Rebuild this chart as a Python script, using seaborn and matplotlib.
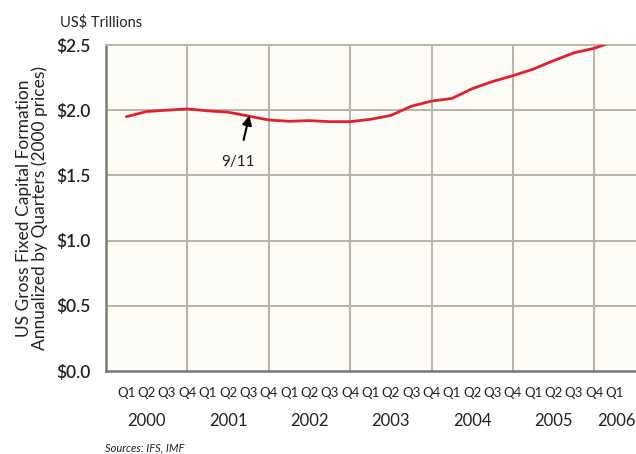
import matplotlib
matplotlib.use("Agg")
import matplotlib.pyplot as plt
import numpy as np
import pandas as pd
import seaborn as sns

# Quarterly US gross fixed capital formation, US$ trillions (2000 prices)
quarters = ["Q1", "Q2", "Q3", "Q4"] * 6 + ["Q1"]
years = ["2000", "2001", "2002", "2003", "2004", "2005", "2006"]
values = [1.95, 1.99, 2.00, 2.01,
          1.995, 1.985, 1.955, 1.925,
          1.915, 1.92, 1.912, 1.912,
          1.93, 1.96, 2.03, 2.07,
          2.09, 2.165, 2.22, 2.265,
          2.315, 2.38, 2.44, 2.475,
          2.53]
yticks = [0.0, 0.5, 1.0, 1.5, 2.0, 2.5]
ytick_labels = ["$0.0", "$0.5", "$1.0", "$1.5", "$2.0", "$2.5"]

df = pd.DataFrame({"pos": np.arange(1, len(values) + 1), "value": values})

sns.set_theme(style="white")
plt.rcParams["font.family"] = ["Lato", "DejaVu Sans"]

text_color = "#222222"
spine_color = "#7a7873"
grid_color = "#b8b4aa"

fig = plt.figure(figsize=(6.36, 4.54), dpi=100)
ax = fig.add_axes([106 / 636, 83 / 454, 530 / 636, 326 / 454])
ax.set_facecolor("#fefcf6")

sns.lineplot(data=df, x="pos", y="value", ax=ax, color="#e0202c",
             linewidth=2.0, zorder=3)

ax.set_xlim(0, 26.05)
ax.set_ylim(0, 2.5)
ax.set_xlabel("")

# horizontal grid every $0.5, vertical grid at each year's Q4
ax.set_yticks(yticks)
ax.set_yticklabels(ytick_labels, fontsize=12.5, color=text_color,
                   fontweight="semibold")
for y in yticks[1:-1]:
    ax.axhline(y, color=grid_color, linewidth=1.4, zorder=1)
for x in range(4, 25, 4):
    ax.axvline(x, color=grid_color, linewidth=1.4, zorder=1)

ax.set_xticks(np.arange(0, len(values) + 1))
ax.set_xticklabels([])
ax.tick_params(axis="x", direction="out", length=7, width=1.2,
               color=spine_color, pad=2)
ax.tick_params(axis="y", direction="out", length=8, width=1.2,
               color=spine_color, pad=3)

for pos, q in zip(df["pos"], quarters):
    ax.text(pos, -0.05, q, ha="center", va="top", fontsize=9.5,
            color=text_color, transform=ax.get_xaxis_transform())
for i, yr in enumerate(years):
    xpos = 2 + 4 * i if i < 6 else 25.1
    ax.text(xpos, -0.13, yr, ha="center", va="top", fontsize=12,
            color=text_color, transform=ax.get_xaxis_transform())

for side in ["left", "bottom"]:
    ax.spines[side].set_color(spine_color)
    ax.spines[side].set_linewidth(1.8)
ax.spines["top"].set_color(grid_color)
ax.spines["top"].set_linewidth(1.4)
ax.spines["right"].set_visible(False)

ax.set_ylabel("US Gross Fixed Capital Formation\nAnnualized by Quarters (2000 prices)",
              fontsize=12.5, color=text_color, linespacing=0.95, labelpad=6)

fig.text(60 / 636, 1 - 22 / 454, "US$ Trillions", fontsize=10.5,
         color=text_color, ha="left", va="center")
fig.text(105 / 636, 1 - 448 / 454, "Sources: IFS, IMF", fontsize=8,
         style="italic", color=text_color, ha="left", va="center")

ax.annotate("9/11", xy=(7.05, 1.96), xytext=(6.5, 1.6),
            ha="center", va="center", fontsize=11, color=text_color,
            arrowprops=dict(arrowstyle="-|>", color="black", lw=1.5,
                            mutation_scale=14, shrinkA=9, shrinkB=0))

fig.savefig("out.png", dpi=100)
